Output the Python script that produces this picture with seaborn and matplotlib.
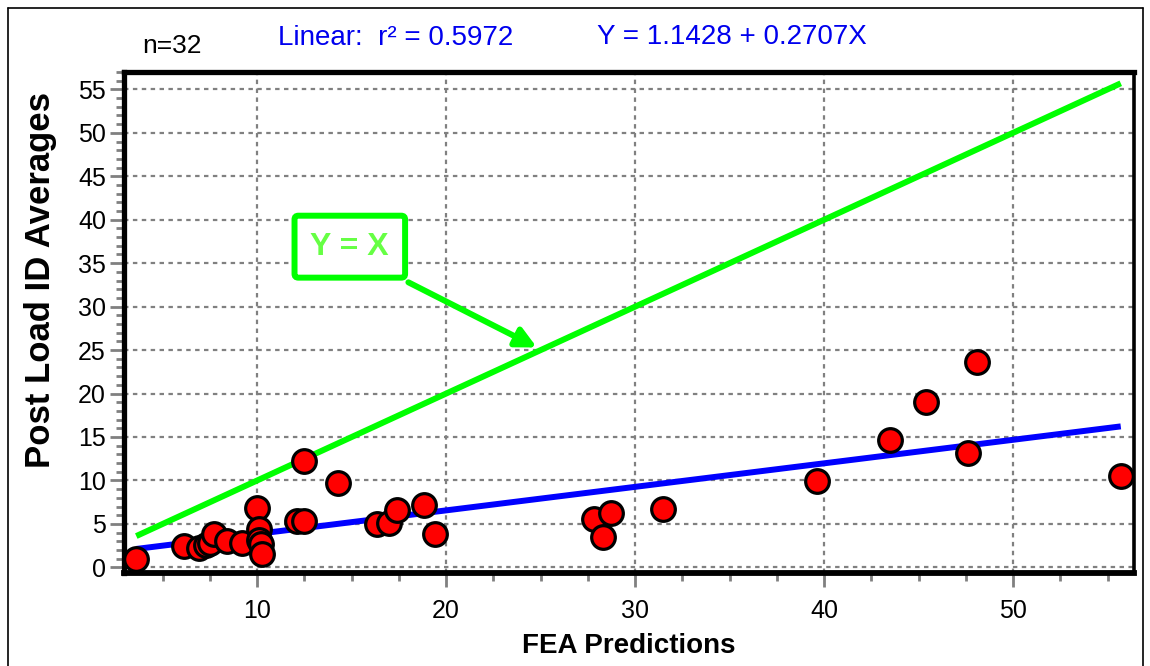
import numpy as np
import pandas as pd
import matplotlib
matplotlib.use("Agg")
import matplotlib.pyplot as plt
from matplotlib.lines import Line2D
from matplotlib.ticker import MultipleLocator
import seaborn as sns

# ---- data ----
fea_predictions = [3.6, 6.1, 6.9, 7.3, 7.5, 7.7, 8.4, 9.2, 10.0, 10.1, 10.1, 10.2, 10.25,
                   12.1, 12.5, 12.5, 14.3, 16.35, 17.0, 17.4, 18.8, 19.4,
                   27.8, 28.3, 28.7, 31.5, 39.6, 43.5, 45.4, 47.6, 48.1, 55.7]
post_load_avg = [1.0, 2.45, 2.27, 2.6, 2.84, 3.8, 3.03, 2.84, 6.87, 4.37, 3.2, 2.7, 1.5,
                 5.33, 5.33, 12.23, 9.74, 4.95, 5.14, 6.6, 7.13, 3.8,
                 5.6, 3.53, 6.21, 6.75, 9.93, 14.65, 19.02, 13.2, 23.62, 10.5]
fit_intercept = 1.1428
fit_slope = 0.2707
r_squared = 0.5972
n_points = 32
x_ticks = [10, 20, 30, 40, 50]
y_ticks = [0, 5, 10, 15, 20, 25, 30, 35, 40, 45, 50, 55]

df = pd.DataFrame({"FEA Predictions": fea_predictions,
                   "Post Load ID Averages": post_load_avg})

sns.set_style("white")
plt.rcParams["font.family"] = ["Liberation Sans", "DejaVu Sans"]
plt.rcParams["text.color"] = "black"
plt.rcParams["axes.labelcolor"] = "black"

fig = plt.figure(figsize=(11.5, 6.66), dpi=100)
ax = fig.add_axes([124 / 1150, 1 - 573 / 666, (1134 - 124) / 1150, (573 - 72) / 666])

# grid
ax.set_axisbelow(True)
ax.grid(True, which="major", color="#808080", linestyle=(0, (2, 2)), linewidth=1.6)

# lines
xs = np.array([min(fea_predictions), max(fea_predictions)])
ax.plot(xs, xs, color="#00FF00", linewidth=4.3, solid_capstyle="butt", zorder=2)
ax.plot(xs, fit_intercept + fit_slope * xs, color="#0000FF", linewidth=4.3,
        solid_capstyle="butt", zorder=2)

# points
sns.scatterplot(data=df, x="FEA Predictions", y="Post Load ID Averages", ax=ax,
                s=290, color="#FF0000", edgecolor="black", linewidth=2.3, zorder=3)

ax.set_xlim(2.95, 56.4)
ax.set_ylim(-0.65, 57.0)
ax.set_xticks(x_ticks)
ax.set_yticks(y_ticks)
ax.xaxis.set_minor_locator(MultipleLocator(2.5))
ax.yaxis.set_minor_locator(MultipleLocator(1))

ax.tick_params(axis="both", which="major", direction="out", length=10, width=2,
               color="#808080", labelsize=18, labelcolor="black")
ax.tick_params(axis="both", which="minor", direction="out", length=5.5, width=2,
               color="#808080")
ax.tick_params(axis="x", which="major", pad=9)
ax.tick_params(axis="y", which="major", pad=3)
ax.tick_params(bottom=True, left=True, which="both")

for side, lw in [("left", 3.8), ("bottom", 4.2), ("top", 3.8), ("right", 2.6)]:
    ax.spines[side].set_visible(True)
    ax.spines[side].set_color("black")
    ax.spines[side].set_linewidth(lw)

ax.set_xlabel("FEA Predictions", fontsize=20, fontweight="bold", labelpad=7, color="black")
ax.set_ylabel("Post Load ID Averages", fontsize=25, fontweight="bold", color="black")
ax.yaxis.set_label_coords(-0.066, 0.585)

# annotation Y = X
ax.annotate("", xy=(24.8, 25.3), xytext=(18.0, 32.8),
            arrowprops=dict(arrowstyle="-|>,head_length=1.2,head_width=0.6",
                            color="#00FF00", linewidth=4.3, shrinkA=0, shrinkB=0),
            zorder=4)
ax.text(14.9, 36.9, "Y = X", fontsize=23, fontweight="bold", color="#66FF44",
        ha="center", va="center", zorder=5,
        bbox=dict(boxstyle="round,pad=0.5,rounding_size=0.12", facecolor="white",
                  edgecolor="#00FF00", linewidth=4.3))

# header texts
fig.text(172 / 1150, 1 - 46 / 666, f"n={n_points}", fontsize=19, color="black",
         ha="center", va="center")
fig.text(278 / 1150, 1 - 38 / 666, f"Linear:  r\u00b2 = {r_squared:.4f}", fontsize=20,
         color="#0000EE", ha="left", va="center")
fig.text(597 / 1150, 1 - 37 / 666, f"Y = {fit_intercept:.4f} + {fit_slope:.4f}X",
         fontsize=20, color="#0000EE", ha="left", va="center")

# outer frame (left, top, right)
fig.add_artist(Line2D([8 / 1150, 8 / 1150], [0, 1 - 8 / 666], color="black",
                      linewidth=1.2, transform=fig.transFigure))
fig.add_artist(Line2D([8 / 1150, 1143 / 1150], [1 - 8 / 666, 1 - 8 / 666], color="black",
                      linewidth=1.2, transform=fig.transFigure))
fig.add_artist(Line2D([1143 / 1150, 1143 / 1150], [0, 1 - 8 / 666], color="black",
                      linewidth=1.2, transform=fig.transFigure))

fig.savefig("out.png", dpi=100)
